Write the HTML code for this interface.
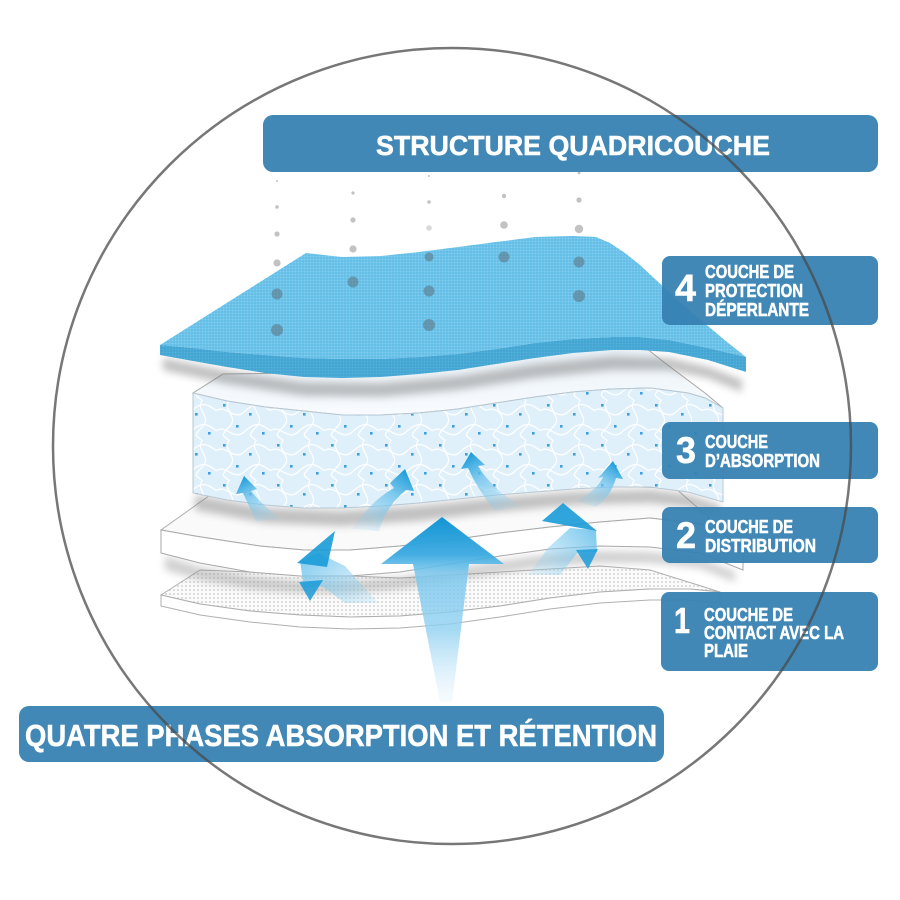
<!DOCTYPE html>
<html><head><meta charset="utf-8"><style>
html,body{margin:0;padding:0;background:#fff;}
svg{display:block;}
text{font-family:"Liberation Sans","DejaVu Sans",sans-serif;font-weight:bold;fill:#fff;stroke:#fff;stroke-width:0.55;}
</style></head><body>
<svg width="900" height="900" viewBox="0 0 900 900" xmlns="http://www.w3.org/2000/svg">
<defs>
  <pattern id="mesh" width="3" height="3" patternUnits="userSpaceOnUse">
    <rect width="3" height="3" fill="#5cbae4"/>
    <rect x="0.5" y="0.5" width="2" height="2" fill="#84cff0"/>
  </pattern>
  <pattern id="mesh2" width="3" height="3" patternUnits="userSpaceOnUse">
    <rect width="3" height="3" fill="#40a2d0"/>
    <rect x="0.5" y="0.5" width="2" height="2" fill="#55b1dc"/>
  </pattern>
  <pattern id="dotgrid" width="4" height="4" patternUnits="userSpaceOnUse">
    <rect width="4" height="4" fill="#fbfbfb"/>
    <rect x="1" y="1" width="2" height="2" fill="#dddddd"/>
  </pattern>
  <pattern id="p3" width="54" height="40" patternUnits="userSpaceOnUse">
    <rect width="54" height="40" fill="#e0f0fb"/>
    <g fill="none" stroke="#ffffff" stroke-width="1.2">
      <path d="M-2,12 C10,2 17,22 28,12 S44,2 56,12"/>
      <path d="M-2,32 C10,22 17,42 28,32 S44,22 56,32"/>
      <path d="M14,-1 C5,10 23,16 14,26 S5,34 14,41"/>
      <path d="M41,-1 C32,10 50,16 41,26 S32,34 41,41"/>
    </g>
    <g fill="#3ea0da">
      <rect x="7" y="4" width="2.6" height="2.6"/>
      <rect x="33" y="13" width="2.6" height="2.6"/>
      <rect x="20" y="25" width="2.6" height="2.6"/>
      <rect x="46" y="32" width="2.6" height="2.6"/>
    </g>
  </pattern>
  <linearGradient id="l3top" x1="0" y1="0" x2="0" y2="1">
    <stop offset="0" stop-color="#eaf2f8"/>
    <stop offset="1" stop-color="#f8fbfe"/>
  </linearGradient>
  <filter id="blur" x="-10%" y="-50%" width="120%" height="200%"><feGaussianBlur stdDeviation="4"/></filter>

  <linearGradient id="big" gradientUnits="userSpaceOnUse" x1="0" y1="517" x2="0" y2="705">
    <stop offset="0" stop-color="#1294d4"/>
    <stop offset="0.2" stop-color="#3aa9e0" stop-opacity="0.95"/>
    <stop offset="0.3" stop-color="#7cc8ee" stop-opacity="0.85"/>
    <stop offset="0.6" stop-color="#8fd0f1" stop-opacity="0.8"/>
    <stop offset="1" stop-color="#e8f5fc" stop-opacity="0.3"/>
  </linearGradient>
  <linearGradient id="ga" gradientUnits="userSpaceOnUse" x1="268" y1="522" x2="244" y2="476">
    <stop offset="0" stop-color="#8fd0f0" stop-opacity="0.15"/>
    <stop offset="0.6" stop-color="#6cc2ec" stop-opacity="0.8"/>
    <stop offset="1" stop-color="#1a9bd8"/>
  </linearGradient>
  <linearGradient id="gb" gradientUnits="userSpaceOnUse" x1="365" y1="530" x2="405" y2="470">
    <stop offset="0" stop-color="#8fd0f0" stop-opacity="0.15"/>
    <stop offset="0.6" stop-color="#6cc2ec" stop-opacity="0.8"/>
    <stop offset="1" stop-color="#1a9bd8"/>
  </linearGradient>
  <linearGradient id="gc" gradientUnits="userSpaceOnUse" x1="508" y1="510" x2="471" y2="452">
    <stop offset="0" stop-color="#8fd0f0" stop-opacity="0.15"/>
    <stop offset="0.6" stop-color="#6cc2ec" stop-opacity="0.8"/>
    <stop offset="1" stop-color="#1a9bd8"/>
  </linearGradient>
  <linearGradient id="gd" gradientUnits="userSpaceOnUse" x1="586" y1="506" x2="613" y2="461">
    <stop offset="0" stop-color="#8fd0f0" stop-opacity="0.15"/>
    <stop offset="0.6" stop-color="#6cc2ec" stop-opacity="0.8"/>
    <stop offset="1" stop-color="#1a9bd8"/>
  </linearGradient>
  <linearGradient id="ge" gradientUnits="userSpaceOnUse" x1="375" y1="605" x2="315" y2="545">
    <stop offset="0" stop-color="#9dd6f2" stop-opacity="0.2"/>
    <stop offset="1" stop-color="#6cc2ec" stop-opacity="0.85"/>
  </linearGradient>
  <linearGradient id="gf" gradientUnits="userSpaceOnUse" x1="530" y1="575" x2="585" y2="525">
    <stop offset="0" stop-color="#9dd6f2" stop-opacity="0.2"/>
    <stop offset="1" stop-color="#6cc2ec" stop-opacity="0.85"/>
  </linearGradient>
</defs>

<rect width="900" height="900" fill="#fff"/>

<!-- LAYER 1 -->
<path d="M200,570 L400,578 L600,566 L650,570 L720,592 L690,589 L650,589 L600,592 L550,598 L500,606 L450,612 L400,616 L350,617 L300,615 L250,611 L200,604 L161,595 Z" fill="url(#dotgrid)" stroke="#b0b0b0" stroke-width="1"/>
<path d="M161,595 L200,604 L250,611 L300,615 L350,617 L400,616 L450,612 L500,606 L550,598 L600,592 L650,589 L690,589 L720,592 L720,603 L690,600 L650,600 L600,603 L550,609 L500,617 L450,624 L400,628 L350,629 L300,627 L250,622 L200,615 L161,606 Z" fill="#fff" stroke="#b0b0b0" stroke-width="1"/>

<!-- shadow under layer 2 -->
<path d="M165,556 L200,567 L250,576 L300,581 L350,581 L400,577 L450,569 L500,561 L550,554 L600,551 L650,552 L700,558 L735,572 L735,582 L700,568 L650,563 L600,563 L550,566 L500,573 L450,581 L400,589 L350,593 L300,593 L250,589 L200,580 L165,570 Z" fill="#8a8a8a" opacity="0.4" filter="url(#blur)"/>

<!-- LAYER 2 -->
<path d="M213,493 L300,500 L400,500 L500,493 L600,486 L675,488 L743,547 L720,532 L700,524 L650,518 L600,522 L550,527 L500,533 L450,540 L400,546 L350,550 L304,550 L260,546 L227,541 L195,536 L161,530 Z" fill="#fafafa" stroke="#b0b0b0" stroke-width="1"/>
<path d="M161,530 L195,536 L227,541 L260,546 L304,550 L350,550 L400,546 L450,540 L500,533 L550,527 L600,522 L650,518 L700,524 L720,532 L743,547 L743,570 L700,553 L650,547 L600,546 L550,549 L500,556 L450,564 L400,572 L350,576 L300,576 L250,572 L200,563 L161,553 Z" fill="#fff" stroke="#a8a8a8" stroke-width="1"/>

<!-- shadow under layer 3 -->
<path d="M195,495 L265,508 L342,511 L419,506 L496,498 L573,492 L650,490 L690,495 L720,505 L720,517 L690,507 L650,503 L573,505 L496,512 L419,521 L342,526 L265,523 L195,510 Z" fill="#7a7a7a" opacity="0.45" filter="url(#blur)"/>

<!-- LAYER 3 -->
<path d="M223,374 L300,373 L400,369 L500,360 L600,347 L646,348 L665,363 L685,378 L705,393 L723,408 L705,398 L688,393 L650,388 L612,389 L573,392 L535,397 L496,403 L458,409 L419,413 L381,415 L342,415 L304,411 L265,407 L227,401 L193,393 Z" fill="url(#l3top)" stroke="#a8a8a8" stroke-width="1"/>
<path d="M193,393 L227,401 L265,407 L304,411 L342,415 L381,415 L419,413 L458,409 L496,403 L535,397 L573,392 L612,389 L650,388 L688,393 L705,398 L723,408 L723,502 L688,492 L650,487 L612,487 L573,489 L535,492 L496,495 L458,499 L419,503 L381,506 L342,508 L304,508 L265,505 L227,500 L193,493 Z" fill="url(#p3)" stroke="#b8c8d2" stroke-width="1"/>

<!-- ARROWS -->
<path d="M442,517 L504,564 L469,564 L452,702 L440,702 L413,564 L381,564 Z" fill="url(#big)"/>
<path d="M256,521 Q249,506 243,493 L236,494 L244,476 L257,489 L251,491 Q262,505 281,519 Z" fill="url(#ga)"/>
<path d="M352,529 Q372,500 394,488 L390,483 L405,469 L414,491 L406,490 Q386,506 379,531 Z" fill="url(#gb)"/>
<path d="M495,511 Q478,490 468,468 L461,469 L471,452 L485,465 L478,466 Q491,488 521,506 Z" fill="url(#gc)"/>
<path d="M577,501 Q598,489 603,477 L598,478 L613,461 L623,479 L616,478 Q611,496 596,507 Z" fill="url(#gd)"/>
<path d="M318,553 L345,566 L378,603 L345,603 L322,586 L304,588 L300,561 Z" fill="url(#ge)"/>
<path d="M297,563 L335,531 L327,567 Z" fill="#1a9bd8" opacity="0.9"/>
<path d="M299,582 L323,580 L310,601 Z" fill="#1a9bd8" opacity="0.85"/>
<path d="M570,528 L596,530 L597,552 L578,552 L560,575 L528,575 L548,548 Z" fill="url(#gf)"/>
<path d="M542,521 L563,503 L597,531 Z" fill="#1a9bd8" opacity="0.9"/>
<path d="M576,550 L598,549 L588,569 Z" fill="#1a9bd8" opacity="0.85"/>

<!-- shadow under layer 4 -->
<path d="M163,358 L227,371 L304,382 L381,383 L458,376 L535,364 L612,356 L669,358 L708,367 L742,380 L742,392 L708,378 L669,370 L612,370 L535,378 L458,390 L381,397 L304,396 L227,384 L163,370 Z" fill="#6a6a6a" opacity="0.42" filter="url(#blur)"/>

<!-- LAYER 4 -->
<path d="M306,253 L342,257 L381,256 L419,252 L458,247 L496,242 L535,237 L573,236 L596,237 L610,243 L625,253 L640,265 L655,279 L670,293 L688,309 L708,326 L727,342 L746,357 L708,348 L669,340 L640,337 L612,337 L573,339 L535,343 L496,349 L458,354 L419,357 L381,359 L342,359 L304,358 L265,355 L227,352 L193,348 L160,345 Z" fill="url(#mesh)"/>
<path d="M160,345 L193,348 L227,352 L265,355 L304,358 L342,359 L381,359 L419,357 L458,354 L496,349 L535,343 L573,339 L612,337 L640,337 L669,340 L708,348 L746,357 L746,372 L708,360 L669,352 L640,350 L612,350 L573,353 L535,358 L496,364 L458,370 L419,374 L381,377 L342,378 L304,377 L265,373 L227,367 L193,361 L160,355 Z" fill="url(#mesh2)"/>

<!-- DROPS -->
<g fill="#c2c2c2">
  <circle cx="277" cy="181" r="1"/><circle cx="277" cy="207" r="1.8"/><circle cx="277" cy="234" r="2.6"/><circle cx="277" cy="263" r="3.6"/>
  <circle cx="353" cy="193" r="1.6"/><circle cx="353" cy="220" r="2.6"/><circle cx="353" cy="249" r="3.6"/>
  <circle cx="429" cy="176" r="1"/><circle cx="429" cy="202" r="1.8"/><circle cx="429" cy="228" r="2.8" fill="#dadada"/>
  <circle cx="504" cy="196" r="2.2"/><circle cx="504" cy="225" r="3.8"/>
  <circle cx="579" cy="173" r="1.4"/><circle cx="579" cy="200" r="2.6"/><circle cx="579" cy="229" r="4.2"/>
</g>
<g fill="#5a6a74" opacity="0.5">
  <circle cx="277" cy="294" r="5.5"/><circle cx="277" cy="330" r="6"/>
  <circle cx="353" cy="282" r="5.5"/>
  <circle cx="429" cy="257" r="4.5"/><circle cx="429" cy="291" r="5.5"/><circle cx="429" cy="325" r="6"/>
  <circle cx="504" cy="257" r="5.5"/>
  <circle cx="579" cy="262" r="5.5"/><circle cx="579" cy="296" r="6"/>
</g>

<!-- BOXES -->
<g fill="#3581b1" fill-opacity="0.94">
  <rect x="263" y="115" width="615" height="57" rx="10"/>
  <rect x="662" y="256" width="216" height="69" rx="8"/>
  <rect x="662" y="422" width="216" height="57" rx="8"/>
  <rect x="662" y="507" width="216" height="56" rx="8"/>
  <rect x="661" y="592" width="217" height="79" rx="8"/>
  <rect x="19" y="706" width="645" height="56" rx="10"/>
</g>

<text x="376" y="155" font-size="28" textLength="394" lengthAdjust="spacingAndGlyphs">STRUCTURE QUADRICOUCHE</text>
<text x="25" y="746" font-size="31" textLength="632" lengthAdjust="spacingAndGlyphs">QUATRE PHASES ABSORPTION ET RÉTENTION</text>

<text x="675" y="301" font-size="38" textLength="21" lengthAdjust="spacingAndGlyphs">4</text>
<text x="705" y="278" font-size="18" textLength="89" lengthAdjust="spacingAndGlyphs">COUCHE DE</text>
<text x="705" y="297" font-size="18" textLength="98" lengthAdjust="spacingAndGlyphs">PROTECTION</text>
<text x="705" y="316" font-size="18" textLength="104" lengthAdjust="spacingAndGlyphs">DÉPERLANTE</text>

<text x="676" y="463" font-size="37" textLength="20" lengthAdjust="spacingAndGlyphs">3</text>
<text x="705" y="448" font-size="18" textLength="63" lengthAdjust="spacingAndGlyphs">COUCHE</text>
<text x="705" y="467" font-size="18" textLength="115" lengthAdjust="spacingAndGlyphs">D’ABSORPTION</text>

<text x="676" y="548" font-size="37" textLength="20" lengthAdjust="spacingAndGlyphs">2</text>
<text x="705" y="533" font-size="18" textLength="88" lengthAdjust="spacingAndGlyphs">COUCHE DE</text>
<text x="705" y="552" font-size="18" textLength="111" lengthAdjust="spacingAndGlyphs">DISTRIBUTION</text>

<text x="674" y="633" font-size="36" textLength="16" lengthAdjust="spacingAndGlyphs">1</text>
<text x="704" y="621" font-size="18" textLength="89" lengthAdjust="spacingAndGlyphs">COUCHE DE</text>
<text x="704" y="639" font-size="18" textLength="140" lengthAdjust="spacingAndGlyphs">CONTACT AVEC LA</text>
<text x="704" y="657" font-size="18" textLength="44" lengthAdjust="spacingAndGlyphs">PLAIE</text>

<!-- CIRCLE -->
<ellipse cx="452" cy="446" rx="399" ry="398" fill="none" stroke="#4a4a4a" stroke-opacity="0.75" stroke-width="2.5"/>
</svg>
</body></html>
